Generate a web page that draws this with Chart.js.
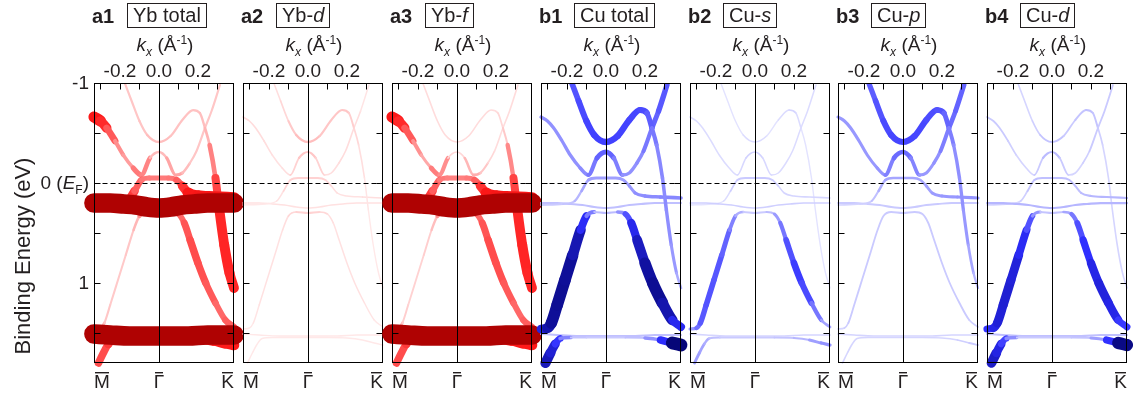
<!DOCTYPE html>
<html>
<head>
<meta charset="utf-8">
<title>Yb / Cu projected band weights</title>
<script src="https://cdn.jsdelivr.net/npm/chart.js@4.4.1/dist/chart.umd.min.js"></script>
<style>
  html, body { margin: 0; padding: 0; background: #fff; }
  #fig { position: relative; width: 1133px; height: 397px; overflow: hidden;
         font-family: "Liberation Sans", Arial, sans-serif; color: #231f20; }
  #fig canvas { position: absolute; top: 0; }
  .pid { position: absolute; top: 4px; font-weight: bold; font-size: 20px; line-height: 24px; }
  .pname { position: absolute; top: 3px; height: 23px; line-height: 23px; font-size: 20px;
           border: 1px solid #231f20; padding: 0 5px; white-space: nowrap; }
  .kx { position: absolute; top: 33px; width: 140px; text-align: center; font-size: 19px; line-height: 24px; white-space: nowrap; }
  .kx sub { font-size: 12px; vertical-align: -5px; line-height: 0; }
  .kx sup { font-size: 12px; vertical-align: 7px; line-height: 0; }
  .ytick { position: absolute; left: 0; width: 89px; text-align: right; font-size: 19px; line-height: 22px; white-space: nowrap; }
  .ytick sub { font-size: 12px; vertical-align: -5px; line-height: 0; }
  .ytitle { position: absolute; left: 23px; top: 256px; transform: translate(-50%, -50%) rotate(-90deg);
            font-size: 22px; white-space: nowrap; }
</style>
</head>
<body>
<div id="fig"></div>
<script>
// k range of the cut (M-bar ... Gamma ... K-bar), in 1/Angstrom
const K_M = -0.333, K_K = 0.385;
const symK = [K_M, 0, K_K];
const symLabels = ['M', '\u0393', 'K'];   // drawn with a bar on top
const kTickLabels = [-0.2, 0, 0.2];
const kTickMarks = [-0.3, -0.2, -0.1, 0.1, 0.2, 0.3];
const eTickMarks = [-0.5, 0, 0.5, 1, 1.5];
const E_MIN = -1, E_MAX = 1.8;

const panelIds = ['a1', 'a2', 'a3', 'b1', 'b2', 'b3', 'b4'];
const panelNames = ['Yb total', 'Yb-<i>d</i>', 'Yb-<i>f</i>', 'Cu total', 'Cu-<i>s</i>', 'Cu-<i>p</i>', 'Cu-<i>d</i>'];
const panelHue = ['red', 'red', 'red', 'blue', 'blue', 'blue', 'blue'];

// band A: upper hole-like band, crosses C near K and drops through E_F
const kA = [-0.175, -0.14, -0.10, -0.06, 0, 0.06, 0.12, 0.175, 0.21, 0.236, 0.26, 0.29, 0.31, 0.335, 0.362, 0.385];
const eA = [-1.00, -0.82, -0.62, -0.48, -0.41, -0.47, -0.63, -0.73, -0.70, -0.55, -0.38, -0.05, 0.27, 0.62, 0.90, 1.05];
// weights per panel: a1 a2 a3 b1 b2 b3 b4
const wA = [
  [0.045, 0.045, 0.045, 0.05, 0.06, 0.05, 0.05, 0.05, 0.05, 0.06, 0.08, 0.25, 0.40, 0.42, 0.42, 0.40],
  [0.015, 0.02, 0.03, 0.05, 0.06, 0.05, 0.04, 0.05, 0.04, 0.03, 0.02, 0.015, 0.01, 0.01, 0.01, 0.01],
  [0.02, 0.02, 0.02, 0.02, 0.02, 0.02, 0.02, 0.02, 0.02, 0.03, 0.05, 0.25, 0.40, 0.42, 0.42, 0.40],
  [0.20, 0.22, 0.24, 0.25, 0.25, 0.25, 0.24, 0.24, 0.22, 0.16, 0.12, 0.11, 0.11, 0.10, 0.08, 0.05],
  [0.01, 0.01, 0.01, 0.01, 0.02, 0.01, 0.01, 0.02, 0.02, 0.01, 0.01, 0.01, 0.01, 0.01, 0.01, 0.01],
  [0.18, 0.20, 0.22, 0.24, 0.24, 0.24, 0.23, 0.22, 0.20, 0.15, 0.11, 0.10, 0.10, 0.08, 0.06, 0.04],
  [0.02, 0.02, 0.02, 0.03, 0.04, 0.03, 0.03, 0.04, 0.04, 0.03, 0.02, 0.02, 0.02, 0.02, 0.02, 0.02]
];

// band C: W-shaped band around Gamma, from M at -0.66 eV up to the top near K
const kC = [-0.333, -0.30, -0.268, -0.225, -0.183, -0.132, -0.09, -0.046, 0, 0.04, 0.085, 0.12, 0.159, 0.193, 0.236, 0.27, 0.313];
const eC = [-0.66, -0.62, -0.55, -0.42, -0.28, -0.15, -0.08, -0.25, -0.31, -0.25, -0.08, -0.10, -0.20, -0.32, -0.55, -0.72, -0.98];
const wC = [
  [0.50, 0.45, 0.35, 0.18, 0.10, 0.12, 0.25, 0.07, 0.05, 0.07, 0.12, 0.07, 0.045, 0.045, 0.045, 0.045, 0.045],
  [0.02, 0.02, 0.02, 0.02, 0.015, 0.015, 0.02, 0.04, 0.05, 0.04, 0.02, 0.015, 0.02, 0.02, 0.02, 0.015, 0.01],
  [0.50, 0.45, 0.35, 0.18, 0.08, 0.10, 0.25, 0.03, 0.02, 0.03, 0.10, 0.06, 0.03, 0.02, 0.02, 0.02, 0.02],
  [0.10, 0.10, 0.10, 0.10, 0.10, 0.10, 0.12, 0.16, 0.20, 0.16, 0.10, 0.10, 0.10, 0.12, 0.16, 0.20, 0.20],
  [0.015, 0.015, 0.015, 0.015, 0.015, 0.015, 0.015, 0.02, 0.025, 0.02, 0.015, 0.015, 0.015, 0.015, 0.015, 0.015, 0.015],
  [0.09, 0.09, 0.09, 0.09, 0.09, 0.09, 0.10, 0.15, 0.18, 0.15, 0.09, 0.09, 0.09, 0.11, 0.15, 0.18, 0.18],
  [0.03, 0.03, 0.03, 0.03, 0.02, 0.02, 0.02, 0.04, 0.05, 0.04, 0.02, 0.02, 0.02, 0.03, 0.03, 0.03, 0.03]
];

// band D: shoulder just above E_F around Gamma, joining the 4f level
const kD = [-0.333, -0.22, -0.16, -0.125, -0.09, -0.05, 0, 0.05, 0.09, 0.12, 0.15, 0.2, 0.28, 0.385];
const eD = [0.22, 0.21, 0.18, 0.08, -0.03, -0.05, -0.05, -0.05, -0.03, 0.03, 0.10, 0.13, 0.14, 0.15];
const wD = [
  [0.30, 0.30, 0.40, 0.30, 0.20, 0.18, 0.18, 0.18, 0.20, 0.30, 0.45, 0.50, 0.50, 0.50],
  [0.01, 0.01, 0.01, 0.02, 0.03, 0.03, 0.03, 0.03, 0.03, 0.02, 0.015, 0.015, 0.015, 0.02],
  [0.30, 0.30, 0.40, 0.30, 0.20, 0.17, 0.17, 0.17, 0.20, 0.30, 0.45, 0.50, 0.50, 0.50],
  [0.03, 0.03, 0.04, 0.06, 0.08, 0.08, 0.08, 0.08, 0.08, 0.08, 0.10, 0.11, 0.11, 0.12],
  [0.01, 0.01, 0.01, 0.02, 0.03, 0.03, 0.03, 0.03, 0.03, 0.02, 0.02, 0.02, 0.02, 0.02],
  [0.02, 0.02, 0.03, 0.05, 0.07, 0.07, 0.07, 0.07, 0.07, 0.07, 0.08, 0.09, 0.09, 0.10],
  [0.02, 0.02, 0.02, 0.03, 0.04, 0.04, 0.04, 0.04, 0.04, 0.04, 0.04, 0.05, 0.05, 0.05]
];

// band F: Yb 4f (7/2) flat level near 0.2 eV
const kF = [-0.333, -0.25, -0.18, -0.12, -0.06, 0, 0.06, 0.12, 0.18, 0.25, 0.32, 0.385];
const eF = [0.20, 0.20, 0.21, 0.22, 0.24, 0.25, 0.24, 0.22, 0.21, 0.20, 0.20, 0.20];
const wF = [
  [0.88, 0.88, 0.88, 0.88, 0.88, 0.88, 0.88, 0.88, 0.88, 0.88, 0.88, 0.88],
  [0.015, 0.015, 0.015, 0.015, 0.015, 0.015, 0.015, 0.015, 0.015, 0.015, 0.015, 0.015],
  [0.88, 0.88, 0.88, 0.88, 0.88, 0.88, 0.88, 0.88, 0.88, 0.88, 0.88, 0.88],
  [0.04, 0.04, 0.04, 0.04, 0.04, 0.04, 0.04, 0.04, 0.04, 0.04, 0.04, 0.04],
  [0.025, 0.025, 0.025, 0.025, 0.025, 0.025, 0.025, 0.025, 0.025, 0.025, 0.025, 0.025],
  [0.03, 0.03, 0.03, 0.03, 0.03, 0.03, 0.03, 0.03, 0.03, 0.03, 0.03, 0.03],
  [0.05, 0.05, 0.05, 0.05, 0.05, 0.05, 0.05, 0.05, 0.05, 0.05, 0.05, 0.05]
];

// band E: Cu-d derived band, top near 0.3 eV at Gamma, down to ~1.45 eV at M and K
const kE = [-0.333, -0.30, -0.28, -0.25, -0.21, -0.17, -0.13, -0.10, -0.06, 0, 0.06, 0.10, 0.13, 0.16, 0.20, 0.24, 0.29, 0.34, 0.385];
const eE = [1.46, 1.45, 1.40, 1.22, 0.97, 0.72, 0.47, 0.33, 0.29, 0.30, 0.29, 0.31, 0.40, 0.57, 0.80, 1.00, 1.20, 1.37, 1.44];
const wE = [
  [0.30, 0.10, 0.05, 0.04, 0.04, 0.04, 0.05, 0.08, 0.20, 0.30, 0.25, 0.20, 0.25, 0.30, 0.30, 0.28, 0.25, 0.20, 0.30],
  [0.01, 0.01, 0.01, 0.015, 0.015, 0.015, 0.015, 0.02, 0.03, 0.03, 0.03, 0.02, 0.015, 0.015, 0.015, 0.015, 0.015, 0.01, 0.01],
  [0.30, 0.10, 0.04, 0.03, 0.03, 0.03, 0.04, 0.07, 0.20, 0.30, 0.25, 0.20, 0.25, 0.30, 0.30, 0.28, 0.25, 0.20, 0.30],
  [0.30, 0.42, 0.48, 0.50, 0.50, 0.48, 0.40, 0.22, 0.05, 0.04, 0.05, 0.15, 0.28, 0.38, 0.45, 0.50, 0.50, 0.40, 0.25],
  [0.06, 0.12, 0.19, 0.21, 0.21, 0.20, 0.16, 0.09, 0.03, 0.03, 0.03, 0.06, 0.11, 0.18, 0.25, 0.27, 0.19, 0.10, 0.05],
  [0.02, 0.02, 0.03, 0.03, 0.03, 0.03, 0.03, 0.03, 0.03, 0.03, 0.03, 0.03, 0.03, 0.03, 0.03, 0.03, 0.03, 0.03, 0.02],
  [0.25, 0.32, 0.36, 0.38, 0.38, 0.35, 0.28, 0.15, 0.04, 0.03, 0.04, 0.10, 0.18, 0.26, 0.32, 0.36, 0.36, 0.32, 0.22]
];

// band F2: Yb 4f (5/2) flat level near 1.52 eV
const kF2 = [-0.333, -0.25, -0.15, -0.05, 0.05, 0.15, 0.25, 0.32, 0.385];
const eF2 = [1.51, 1.52, 1.53, 1.53, 1.53, 1.53, 1.52, 1.52, 1.52];
const wF2 = [
  [0.88, 0.88, 0.88, 0.88, 0.88, 0.88, 0.88, 0.88, 0.88],
  [0.01, 0.01, 0.01, 0.01, 0.01, 0.01, 0.01, 0.01, 0.01],
  [0.88, 0.88, 0.88, 0.88, 0.88, 0.88, 0.88, 0.88, 0.88],
  [0.04, 0.04, 0.04, 0.04, 0.04, 0.04, 0.04, 0.04, 0.04],
  [0.02, 0.02, 0.02, 0.02, 0.02, 0.02, 0.02, 0.02, 0.02],
  [0.02, 0.02, 0.02, 0.02, 0.02, 0.02, 0.02, 0.02, 0.02],
  [0.04, 0.04, 0.04, 0.04, 0.04, 0.04, 0.04, 0.04, 0.04]
];

// band G: deep band rising from the bottom at M, running under F2 to K
const kG = [-0.31, -0.285, -0.26, -0.235, -0.18, -0.1, 0, 0.1, 0.2, 0.28, 0.34, 0.385];
const eG = [1.80, 1.70, 1.61, 1.555, 1.545, 1.545, 1.545, 1.545, 1.55, 1.57, 1.60, 1.62];
const wG = [
  [0.30, 0.30, 0.30, 0.40, 0.50, 0.50, 0.50, 0.50, 0.50, 0.50, 0.45, 0.45],
  [0.01, 0.01, 0.01, 0.01, 0.01, 0.01, 0.01, 0.01, 0.01, 0.01, 0.01, 0.01],
  [0.30, 0.30, 0.30, 0.40, 0.50, 0.50, 0.50, 0.50, 0.50, 0.50, 0.45, 0.45],
  [0.45, 0.40, 0.35, 0.20, 0.04, 0.03, 0.03, 0.03, 0.05, 0.15, 0.45, 0.65],
  [0.08, 0.08, 0.07, 0.05, 0.03, 0.03, 0.03, 0.03, 0.04, 0.06, 0.10, 0.10],
  [0.02, 0.02, 0.02, 0.02, 0.02, 0.02, 0.02, 0.02, 0.02, 0.02, 0.03, 0.03],
  [0.42, 0.38, 0.32, 0.18, 0.03, 0.03, 0.03, 0.03, 0.04, 0.12, 0.45, 0.60]
];

const bands = [
  { k: kA, e: eA, w: wA }, { k: kC, e: eC, w: wC }, { k: kD, e: eD, w: wD },
  { k: kF, e: eF, w: wF }, { k: kE, e: eE, w: wE }, { k: kF2, e: eF2, w: wF2 },
  { k: kG, e: eG, w: wG }
];

// ---- layout ----
const panelLeft = [94, 243, 392, 541, 690, 838, 987];
const PANEL_W = 140;
const INK = '#231f20';
const FONT = '"Liberation Sans", Arial, sans-serif';
Chart.defaults.font.family = FONT;
Chart.defaults.color = INK;

const ramps = {
  red:  { pure: [255, 25, 25], dark: [170, 0, 0], gain: 1.1 },
  blue: { pure: [45, 45, 255], dark: [0, 0, 100], gain: 1.7 }
};
const mix = (a, b, f) => a.map((v, i) => Math.round(v + (b[i] - v) * f));
function weightColor(hue, w) {
  const r = ramps[hue];
  const t = Math.min(1, w * r.gain);
  const c = t < 0.5 ? mix([255, 255, 255], r.pure, Math.pow(t / 0.5, 0.6))
                    : mix(r.pure, r.dark, (t - 0.5) / 0.5);
  return `rgb(${c.join(',')})`;
}
const weightWidth = w => 1.2 + 21 * w;

// frame, Gamma line, dashed E_F line, inner ticks, bars over the point labels
const framePlugin = {
  id: 'frame',
  afterDatasetsDraw(chart) {
    const { ctx, chartArea: a, scales: { x, y } } = chart;
    const px = v => Math.round(x.getPixelForValue(v)) + 0.5;
    const py = v => Math.round(y.getPixelForValue(v)) + 0.5;
    const L = Math.round(a.left) + 0.5, R = Math.round(a.right) - 0.5;
    const T = Math.round(a.top) + 0.5, B = Math.round(a.bottom) - 0.5;
    ctx.save();
    ctx.strokeStyle = '#000';
    ctx.lineWidth = 1;
    ctx.setLineDash([5, 3]);
    ctx.beginPath(); ctx.moveTo(L, py(0)); ctx.lineTo(R, py(0)); ctx.stroke();
    ctx.setLineDash([]);
    ctx.beginPath();
    ctx.moveTo(px(0), T); ctx.lineTo(px(0), B);
    kTickMarks.forEach(v => { ctx.moveTo(px(v), T); ctx.lineTo(px(v), T + 6); });
    eTickMarks.forEach(v => {
      ctx.moveTo(L, py(v)); ctx.lineTo(L + 6, py(v));
      ctx.moveTo(R, py(v)); ctx.lineTo(R - 6, py(v));
    });
    ctx.stroke();
    ctx.strokeRect(L, T, R - L, B - T);

    // overbars for M, Gamma, K (labels are inner-aligned by the x2 axis)
    const x2 = chart.scales.x2;
    ctx.font = '19px ' + FONT;
    ctx.fillStyle = INK;
    symK.forEach((v, i) => {
      const w = ctx.measureText(symLabels[i]).width;
      let cx = x2.getPixelForValue(v);
      if (i === 0) cx = a.left + w / 2;
      else if (i === symK.length - 1) cx = a.right - w / 2;
      ctx.fillRect(Math.round(cx - w / 2 + 1), Math.round(a.bottom + 9), Math.round(w - 2), 1.4);
    });
    ctx.restore();
  }
};

const fig = document.getElementById('fig');

panelIds.forEach((id, p) => {
  const left = panelLeft[p];
  const hue = panelHue[p];

  const canvas = document.createElement('canvas');
  canvas.width = PANEL_W + 20;
  canvas.height = 397;
  canvas.style.left = (left - 10) + 'px';
  fig.appendChild(canvas);

  const datasets = bands.map(b => {
    const w = b.w[p];
    const mean = w.reduce((s, v) => s + v, 0) / w.length;
    const segW = c => (w[c.p0DataIndex] + w[c.p1DataIndex]) / 2;
    return {
      mean,
      ds: {
        data: b.k.map((k, i) => ({ x: k, y: b.e[i] })),
        borderColor: weightColor(hue, mean),
        borderWidth: weightWidth(mean),
        borderCapStyle: 'round',
        borderJoinStyle: 'round',
        pointRadius: 0,
        pointHoverRadius: 0,
        cubicInterpolationMode: 'monotone',
        fill: false,
        clip: { left: 10, right: 10, top: 0, bottom: 5 },
        segment: {
          borderWidth: c => weightWidth(segW(c)),
          borderColor: c => weightColor(hue, segW(c))
        }
      }
    };
  }).sort((a, b) => b.mean - a.mean).map(s => s.ds);

  new Chart(canvas, {
    type: 'line',
    data: { datasets },
    plugins: [framePlugin],
    options: {
      responsive: false,
      devicePixelRatio: 1,
      animation: false,
      events: [],
      layout: { padding: { top: 60, bottom: 4, left: 10, right: 10 } },
      plugins: { legend: { display: false }, tooltip: { enabled: false } },
      scales: {
        x: {
          type: 'linear', position: 'top', min: K_M, max: K_K,
          afterBuildTicks: s => { s.ticks = kTickLabels.map(v => ({ value: v })); },
          afterFit: s => { s.height = 23; },
          grid: { display: false, drawTicks: false }, border: { display: false },
          ticks: { autoSkip: false, maxRotation: 0, padding: 0, font: { size: 19 }, color: INK,
                   callback: v => v.toFixed(1) }
        },
        x2: {
          type: 'linear', position: 'bottom', min: K_M, max: K_K,
          afterBuildTicks: s => { s.ticks = symK.map(v => ({ value: v })); },
          afterFit: s => { s.height = 30; },
          grid: { display: false, drawTicks: false }, border: { display: false },
          ticks: { autoSkip: false, maxRotation: 0, padding: 8, align: 'inner', font: { size: 19 }, color: INK,
                   callback: (v, i) => symLabels[i] }
        },
        y: { display: false, reverse: true, min: E_MIN, max: E_MAX }
      }
    }
  });

  const pid = document.createElement('div');
  pid.className = 'pid';
  pid.style.left = (left - 2) + 'px';
  pid.textContent = id;
  fig.appendChild(pid);

  const pname = document.createElement('div');
  pname.className = 'pname';
  pname.style.left = (left + 33) + 'px';
  pname.innerHTML = panelNames[p];
  fig.appendChild(pname);

  const kx = document.createElement('div');
  kx.className = 'kx';
  kx.style.left = (left + 1) + 'px';
  kx.innerHTML = '<i>k</i><sub><i>x</i></sub> (Å<sup>-1</sup>)';
  fig.appendChild(kx);
});

// energy axis labels (left of panel a1)
[[-1, '-1'], [0, '0 (<i>E</i><sub>F</sub>)'], [1, '1']].forEach(([e, html]) => {
  const d = document.createElement('div');
  d.className = 'ytick';
  d.style.top = (83 + (e - E_MIN) * 100 - 11) + 'px';
  d.innerHTML = html;
  fig.appendChild(d);
});
const yt = document.createElement('div');
yt.className = 'ytitle';
yt.textContent = 'Binding Energy (eV)';
fig.appendChild(yt);
</script>
</body>
</html>
